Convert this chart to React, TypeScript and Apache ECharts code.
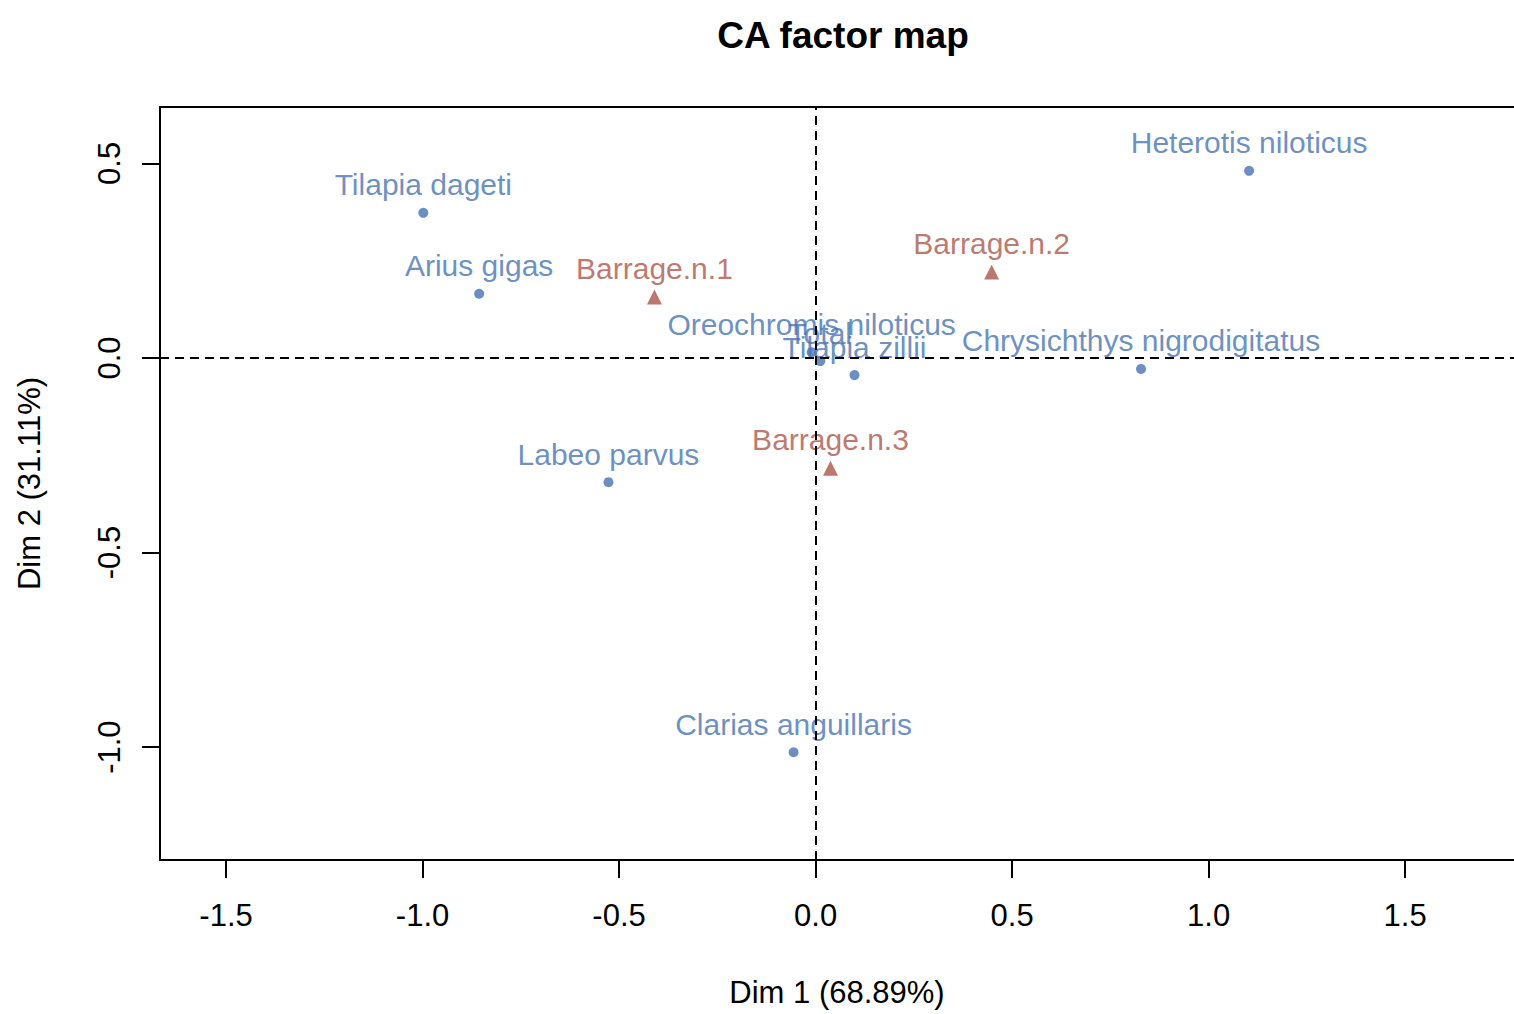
import React, { useEffect, useRef } from "react";
import * as echarts from "echarts";

const speciesNames = [
  "Tilapia dageti",
  "Arius gigas",
  "Heterotis niloticus",
  "Oreochromis niloticus",
  "Total",
  "Tilapia zillii",
  "Chrysichthys nigrodigitatus",
  "Labeo parvus",
  "Clarias anguillaris",
];
const speciesX = [-0.998, -0.856, 1.103, -0.01, 0.012, 0.099, 0.828, -0.527, -0.056];
const speciesY = [0.373, 0.165, 0.481, 0.015, -0.008, -0.044, -0.028, -0.319, -1.013];

const siteNames = ["Barrage.n.1", "Barrage.n.2", "Barrage.n.3"];
const siteX = [-0.41, 0.448, 0.038];
const siteY = [0.157, 0.221, -0.283];

const xTicks = [-1.5, -1.0, -0.5, 0.0, 0.5, 1.0, 1.5];
const yTicks = [-1.0, -0.5, 0.0, 0.5];

const BLUE = "#4673b3";
const RED = "#ad5649";
const FONT = "'Liberation Sans', Arial, Helvetica, sans-serif";
const X_MIN = -1.668;
const X_MAX = 1.777;

export default function App() {
  const ref = useRef<HTMLDivElement>(null);
  useEffect(() => {
    document.body.style.margin = "0";
    document.body.style.overflow = "hidden";
    if (!ref.current) return;
    const chart = echarts.init(ref.current, null, { renderer: "svg" });
    const speciesData = speciesNames.map((n, i) => ({ name: n, value: [speciesX[i], speciesY[i]] }));
    const siteData = siteNames.map((n, i) => ({ name: n, value: [siteX[i], siteY[i]] }));
    chart.setOption({
      animation: false,
      backgroundColor: "#ffffff",
      title: {
        text: "CA factor map",
        left: 838,
        top: 12,
        textAlign: "center",
        textStyle: { fontFamily: FONT, fontSize: 37, fontWeight: "bold", color: "#000" },
      },
      grid: {
        left: 160,
        right: 0,
        top: 107,
        bottom: 154,
        show: false,
      },
      xAxis: [
        {
          type: "value",
          position: "bottom",
          min: X_MIN,
          max: X_MAX,
          name: "Dim 1 (68.89%)",
          nameLocation: "middle",
          nameGap: 117,
          nameTextStyle: { fontFamily: FONT, fontSize: 31, color: "#000" },
          axisLine: { show: true, onZero: false, lineStyle: { color: "#000", width: 2 } },
          axisTick: { show: true, length: 18, customValues: xTicks, lineStyle: { color: "#000", width: 2 } },
          axisLabel: {
            customValues: xTicks,
            margin: 40,
            fontFamily: FONT,
            fontSize: 31,
            color: "#000",
            formatter: (v: number) => v.toFixed(1),
          },
          splitLine: { show: false },
        },
        {
          type: "value",
          position: "top",
          min: X_MIN,
          max: X_MAX,
          axisLine: { show: true, onZero: false, lineStyle: { color: "#000", width: 2 } },
          axisTick: { show: false },
          axisLabel: { show: false },
          splitLine: { show: false },
        },
      ],
      yAxis: {
        type: "value",
        min: -1.29,
        max: 0.645,
        name: "Dim 2 (31.11%)",
        nameLocation: "middle",
        nameGap: 115,
        nameRotate: 90,
        nameTextStyle: { fontFamily: FONT, fontSize: 31, color: "#000" },
        axisLine: { show: true, onZero: false, lineStyle: { color: "#000", width: 2 } },
        axisTick: { show: true, length: 18, customValues: yTicks, lineStyle: { color: "#000", width: 2 } },
        axisLabel: {
          customValues: yTicks,
          rotate: 90,
          margin: 35,
          fontFamily: FONT,
          fontSize: 31,
          color: "#000",
          formatter: (v: number) => v.toFixed(1),
        },
        splitLine: { show: false },
      },
      series: [
        {
          type: "scatter",
          name: "species",
          xAxisIndex: 0,
          data: speciesData,
          symbol: "circle",
          symbolSize: 10,
          itemStyle: { color: BLUE },
          label: {
            show: true,
            position: "top",
            distance: 8,
            formatter: "{b}",
            fontFamily: FONT,
            fontSize: 30,
            color: BLUE,
          },
          markLine: {
            silent: true,
            symbol: "none",
            label: { show: false },
            lineStyle: { color: "#000", type: [9, 6], width: 2 },
            data: [{ xAxis: 0 }, { yAxis: 0 }],
          },
          z: 3,
        },
        {
          type: "scatter",
          name: "sites",
          xAxisIndex: 0,
          data: siteData,
          symbol: "triangle",
          symbolSize: 15,
          itemStyle: { color: RED },
          label: {
            show: true,
            position: "top",
            distance: 6,
            formatter: "{b}",
            fontFamily: FONT,
            fontSize: 30,
            color: RED,
          },
          z: 3,
        },
      ],
    });
    return () => chart.dispose();
  }, []);
  return <div ref={ref} style={{ width: 1514, height: 1014 }} />;
}
